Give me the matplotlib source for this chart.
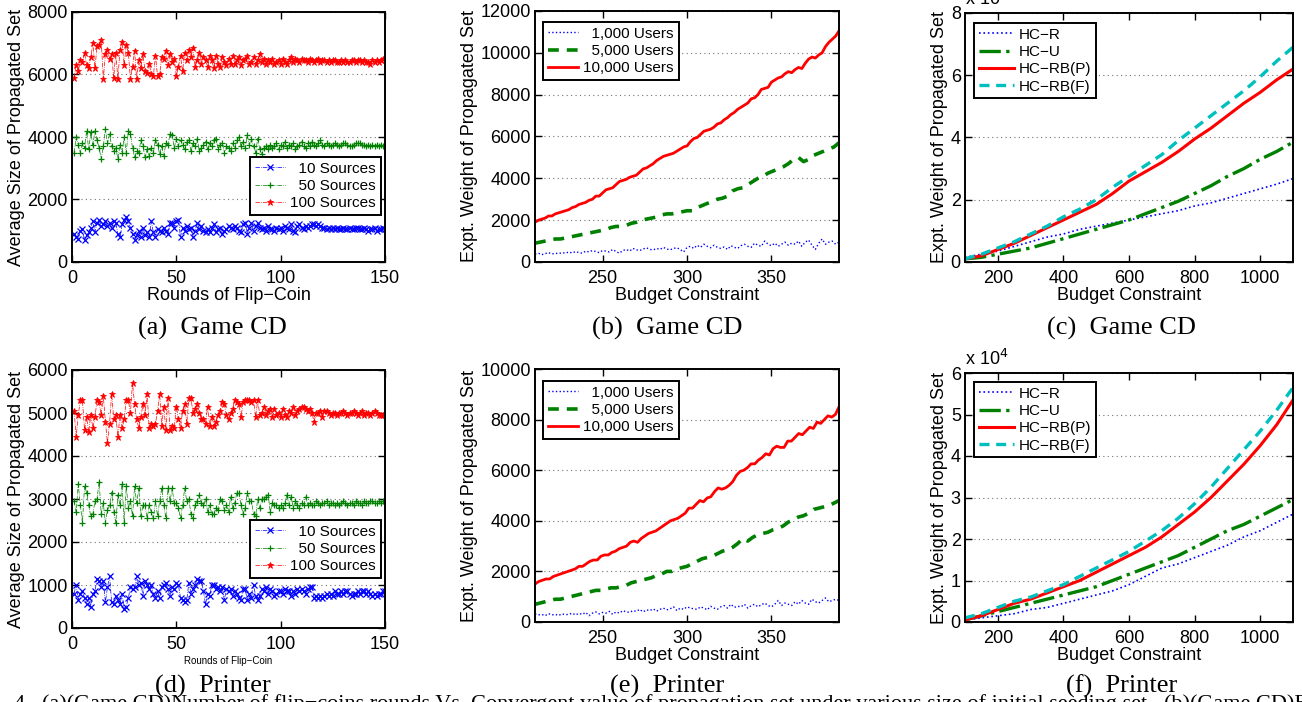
import numpy as np
import matplotlib
matplotlib.use('Agg')
import matplotlib.pyplot as plt

plt.rcParams['font.family'] = ['Liberation Sans', 'DejaVu Sans']

W, H = 1302, 702

# ---- (a) Game CD, flip-coin rounds ----
a_src100 = [5900, 6300, 6100, 6450, 6400, 6700, 6300, 6200, 6550, 7000, 6200, 6900, 6950, 7100, 5850, 6650, 6800, 6500, 6650, 5900,
            6700, 5850, 6800, 7050, 6300, 6950, 6700, 5850, 6250, 6750, 5850, 6450, 6200, 6650, 6100, 6050, 6350, 6000, 5950, 6600,
            5950, 6000, 6550, 6500, 6750, 6300, 6650, 6400, 6500, 5950, 6250, 6600, 6100, 6700, 6450, 6800, 6550, 6850, 6250, 6450,
            6700, 6350, 6550, 6450, 6250, 6600, 6450, 6200, 6600, 6350, 6250, 6550, 6400, 6300, 6500, 6350, 6600, 6350, 6450, 6550,
            6300, 6450, 6500, 6600, 6350, 6400, 6550, 6350, 6450, 6650, 6400, 6500, 6350, 6450, 6400, 6500, 6350, 6400, 6450, 6350,
            6500, 6400, 6350, 6450, 6550, 6400, 6500, 6450, 6400, 6500, 6450, 6450, 6400, 6500, 6450, 6400, 6450, 6500, 6400, 6450,
            6450, 6400, 6450, 6400, 6450, 6450, 6400, 6400, 6450, 6400, 6450, 6400, 6400, 6450, 6450, 6400, 6450, 6450, 6400, 6450,
            6400, 6400, 6350, 6450, 6400, 6450, 6400, 6450, 6500, 6450]
a_src50 = [3500, 4000, 3750, 3500, 3800, 3650, 4200, 3600, 4150, 3750, 4200, 3900, 3650, 3300, 3700, 4250, 3800, 4100, 3700, 3550,
           3650, 3300, 3750, 3500, 4000, 3500, 4200, 4100, 3650, 3350, 3550, 3500, 3900, 3700, 3350, 3600, 3400, 3650, 3500, 3900,
           3750, 3450, 3700, 3400, 3800, 3750, 4100, 4050, 3650, 3950, 3700, 3900, 3750, 3600, 3850, 3900, 3550, 3800, 3700, 3950,
           3550, 3650, 3750, 3850, 3600, 3800, 3700, 3900, 3950, 3600, 3750, 3800, 3500, 3700, 3650, 3550, 3800, 3650, 3900, 4000,
           3700, 3850, 3650, 4050, 3750, 3950, 3700, 3500, 3950, 3600, 3450, 3650, 3700, 3600, 3750, 3650, 3700, 3800, 3600, 3750,
           3700, 3850, 3650, 3750, 3700, 3800, 3600, 3700, 3750, 3850, 3700, 3650, 3800, 3700, 3850, 3750, 3700, 3800, 3900, 3750,
           3700, 3800, 3750, 3700, 3750, 3800, 3750, 3700, 3750, 3800, 3800, 3750, 3700, 3700, 3750, 3800, 3800, 3800, 3750, 3750,
           3700, 3750, 3700, 3750, 3700, 3750, 3700, 3750, 3700, 3750]
a_src10 = [900, 800, 750, 1000, 1050, 700, 850, 950, 1100, 1300, 950, 1250, 1350, 1150, 1200, 1300, 1150, 1250, 1100, 1300,
           1250, 900, 800, 1200, 1350, 1450, 1300, 1100, 900, 700, 850, 1000, 800, 1100, 850, 950, 800, 1300, 950, 800,
           1050, 1000, 950, 1100, 1000, 900, 1250, 1250, 1100, 1300, 1350, 800, 1100, 1000, 1150, 1050, 1100, 800, 1000, 1250,
           1050, 1150, 1000, 950, 1050, 950, 1100, 1200, 950, 1050, 1100, 900, 1000, 1050, 1150, 1100, 1050, 1150, 1100, 1000,
           950, 1200, 1250, 900, 1100, 1250, 1000, 1150, 1250, 1100, 1050, 1100, 1000, 1150, 1050, 1050, 1000, 1100, 1050, 1100,
           1000, 1150, 1100, 1050, 1200, 1000, 950, 1150, 1200, 1100, 1050, 1150, 1100, 1150, 1200, 1200, 1150, 1200, 1150, 1100,
           1100, 1050, 1100, 1050, 1100, 1050, 1100, 1050, 1050, 1100, 1050, 1050, 1100, 1050, 1050, 1100, 1100, 1050, 1050, 1100,
           1050, 1000, 1050, 1050, 1100, 1000, 1050, 1050, 1100, 1050]

# ---- (d) Printer, flip-coin rounds ----
d_src100 = [5050, 4450, 4950, 5300, 5300, 4600, 4900, 4550, 4950, 4650, 4900, 5300, 5250, 4950, 5400, 4800, 4300, 4750, 5450, 4850,
            4950, 4450, 4950, 4650, 4850, 5300, 5300, 5000, 5700, 5200, 4850, 4650, 4900, 5200, 4950, 5450, 4650, 4750, 4700, 4750,
            5050, 5450, 4700, 5150, 4600, 5350, 4600, 4700, 4650, 5150, 4850, 4650, 5050, 5200, 4750, 5350, 5350, 5000, 5100, 5200,
            5000, 4850, 4850, 4750, 5150, 4700, 4900, 4700, 4800, 4950, 5050, 5250, 5200, 4950, 4850, 5000, 5100, 5300, 5250, 5200,
            4900, 5250, 5300, 5300, 5300, 5250, 5300, 4900, 5300, 4950, 5000, 5150, 4950, 5050, 5100, 4900, 5100, 4950, 5000, 4900,
            5100, 4950, 4900, 5050, 5000, 5150, 4950, 5050, 5100, 5150, 5150, 5100, 5050, 5100, 5000, 4800, 5000, 5000, 5050, 4900,
            5050, 5050, 5000, 4950, 5000, 5000, 4950, 5000, 5000, 5050, 5000, 4950, 5000, 5000, 5050, 5000, 4950, 5000, 5050, 4950,
            5000, 5000, 4950, 5000, 5050, 5000, 4950, 4950, 4950, 4950]
d_src50 = [2950, 2700, 3350, 2850, 2450, 3300, 3150, 2850, 2600, 2650, 2950, 3000, 3400, 2650, 2900, 2450, 2750, 2850, 3150, 2700,
           2450, 3100, 2850, 3350, 2450, 3300, 2800, 2950, 2600, 3300, 2900, 3250, 2600, 2850, 2850, 2550, 2850, 2700, 2550, 2950,
           2600, 2950, 3250, 2850, 2550, 3250, 2950, 3250, 2900, 2900, 2800, 2550, 2850, 3250, 2950, 3000, 2650, 2550, 2850, 2950,
           3100, 2900, 2850, 3000, 2700, 2850, 2650, 2650, 2800, 2750, 3000, 2950, 2750, 2850, 2700, 3050, 2800, 2900, 3150, 3150,
           2850, 2650, 2800, 3150, 2950, 2950, 2650, 2600, 3000, 2800, 3000, 3000, 3050, 3100, 2700, 2900, 2850, 2850, 2800, 2850,
           2800, 2900, 3100, 2850, 3050, 2800, 2950, 2850, 2800, 2900, 2850, 3050, 2850, 2900, 2850, 2850, 2950, 2900, 2850, 2900,
           2900, 2950, 2850, 2900, 2900, 2850, 2900, 2850, 2900, 2950, 2900, 2850, 2900, 2900, 2850, 2950, 2900, 2900, 2850, 2950,
           2900, 2900, 2950, 2950, 2900, 2900, 2950, 2900, 2950, 2900]
d_src10 = [800, 1000, 650, 800, 850, 700, 550, 700, 500, 800, 850, 1150, 1100, 950, 1100, 600, 950, 1200, 600, 550,
           750, 650, 550, 800, 450, 500, 700, 950, 900, 950, 1200, 1000, 1050, 750, 1100, 1000, 900, 1000, 800, 700,
           850, 700, 950, 1000, 1050, 900, 750, 950, 900, 1050, 1000, 700, 650, 600, 650, 1050, 800, 900, 1000, 1150,
           1100, 1100, 850, 550, 800, 750, 1000, 1000, 900, 950, 850, 950, 650, 900, 850, 900, 750, 850, 800, 700,
           650, 900, 900, 650, 800, 700, 1000, 750, 650, 750, 900, 850, 950, 800, 900, 850, 750, 800, 850, 850,
           800, 900, 850, 850, 750, 850, 800, 900, 850, 900, 850, 800, 900, 950, 950, 700, 750, 700, 750, 700,
           750, 800, 750, 800, 750, 850, 800, 800, 850, 800, 850, 850, 800, 750, 800, 800, 850, 800, 850, 850,
           800, 850, 800, 750, 800, 750, 800, 800, 850, 850]

# ---- (b) Game CD, budget vs users ----
b_u10000 = [1900, 2000, 2050, 2100, 2200, 2200, 2300, 2350, 2400, 2450, 2500, 2600, 2650, 2750, 2800, 2850, 2950, 3000, 3150, 3150,
            3300, 3450, 3500, 3550, 3700, 3850, 3900, 3950, 4050, 4100, 4150, 4300, 4450, 4500, 4600, 4700, 4850, 4950, 5050, 5100,
            5150, 5200, 5300, 5400, 5500, 5550, 5750, 5900, 5950, 6100, 6250, 6300, 6350, 6450, 6600, 6650, 6800, 6900, 7050, 7150,
            7300, 7400, 7500, 7600, 7800, 7850, 8000, 8250, 8300, 8350, 8600, 8700, 8800, 8850, 9000, 9100, 9050, 9200, 9300, 9250,
            9500, 9700, 9800, 9750, 9900, 10000, 10300, 10500, 10650, 10800, 11050]
b_u5000 = [900, 950, 1000, 1050, 1100, 1100, 1150, 1200, 1250, 1300, 1350, 1400, 1450, 1500, 1550, 1650, 1700, 1700, 1750, 1850,
           1900, 2000, 2050, 2100, 2150, 2250, 2300, 2300, 2350, 2400, 2450, 2450, 2600, 2700, 2800, 2900, 3000, 3050, 3150, 3400,
           3500, 3550, 3700, 3850, 4000, 4100, 4250, 4350, 4450, 4550, 4700, 4900, 5000, 4800, 4900, 5100, 5200, 5300, 5400, 5500,
           5700]
b_u1000 = [380, 420, 350, 400, 450, 380, 420, 400, 450, 420, 480, 430, 500, 450, 420, 520, 480, 550, 500, 450,
           550, 520, 480, 600, 500, 420, 550, 600, 520, 650, 580, 550, 620, 680, 600, 580, 650, 600, 700, 620,
           580, 650, 680, 600, 480, 700, 750, 650, 800, 700, 850, 750, 680, 800, 700, 650, 720, 600, 780, 700,
           650, 780, 850, 750, 700, 900, 800, 750, 1000, 850, 780, 900, 750, 850, 950, 800, 900, 850, 1000, 750,
           950, 1050, 800, 600, 900, 1100, 850, 950, 1000, 850, 950]

# ---- (e) Printer, budget vs users ----
e_u10000 = [1500, 1600, 1650, 1700, 1700, 1800, 1850, 1900, 1950, 2000, 2050, 2100, 2200, 2200, 2300, 2400, 2450, 2450, 2600, 2650,
            2650, 2750, 2800, 2900, 2950, 3000, 3150, 3200, 3150, 3300, 3400, 3500, 3550, 3600, 3700, 3800, 3900, 4000, 4050, 4100,
            4200, 4300, 4500, 4500, 4650, 4800, 4750, 4900, 4950, 5150, 5300, 5250, 5300, 5400, 5550, 5800, 5950, 6000, 6100, 6250,
            6250, 6400, 6500, 6650, 6600, 6850, 6950, 6900, 6900, 7150, 7150, 7300, 7450, 7400, 7550, 7700, 7650, 7900, 7850, 8000,
            8150, 8100, 8200, 8500]
e_u5000 = [700, 750, 800, 850, 900, 900, 950, 1000, 1050, 1100, 1150, 1200, 1250, 1250, 1300, 1350, 1350, 1400, 1450, 1550,
           1600, 1650, 1700, 1750, 1850, 1900, 2000, 2000, 2100, 2150, 2200, 2300, 2400, 2500, 2550, 2600, 2700, 2800, 2850, 2950,
           3100, 3300, 3200, 3350, 3450, 3500, 3550, 3650, 3700, 3800, 3950, 4050, 4150, 4200, 4300, 4450, 4500, 4550, 4600, 4700,
           4800]
e_u1000 = [320, 280, 300, 250, 330, 280, 300, 260, 320, 290, 300, 350, 280, 340, 300, 380, 250, 350, 400, 320,
           380, 350, 420, 300, 400, 350, 450, 400, 380, 450, 420, 500, 400, 480, 450, 520, 430, 500, 550, 480,
           520, 600, 450, 550, 500, 600, 550, 520, 500, 600, 550, 480, 620, 550, 500, 600, 650, 550, 700, 580,
           620, 600, 700, 550, 650, 700, 600, 680, 750, 650, 600, 700, 850, 650, 750, 700, 650, 800, 700, 850,
           750, 700, 900, 800, 750, 850, 950, 800, 850, 900, 850]

# ---- (c)/(f) heuristics, budget 100..1100 step 50, values x 10^4 ----
budget = list(range(100, 1101, 50))
c_hcr = [0.15, 0.25, 0.35, 0.5, 0.65, 0.8, 0.9, 1.05, 1.15, 1.25, 1.35, 1.45, 1.55, 1.65, 1.8, 1.9, 2.05, 2.2, 2.35, 2.5, 2.68]
c_hcu = [0.1, 0.15, 0.25, 0.35, 0.45, 0.6, 0.75, 0.9, 1.05, 1.2, 1.35, 1.55, 1.75, 1.95, 2.2, 2.45, 2.75, 3.0, 3.3, 3.55, 3.85]
c_rbp = [0.1, 0.2, 0.4, 0.6, 0.85, 1.1, 1.35, 1.6, 1.85, 2.2, 2.6, 2.9, 3.2, 3.55, 3.95, 4.3, 4.7, 5.1, 5.45, 5.85, 6.2]
c_rbf = [0.1, 0.25, 0.45, 0.65, 0.9, 1.15, 1.45, 1.7, 2.0, 2.4, 2.75, 3.1, 3.45, 3.9, 4.3, 4.7, 5.1, 5.5, 5.95, 6.45, 6.9]
f_hcr = [0.05, 0.1, 0.15, 0.2, 0.3, 0.35, 0.45, 0.55, 0.65, 0.75, 0.9, 1.1, 1.3, 1.4, 1.55, 1.7, 1.85, 2.05, 2.2, 2.4, 2.6]
f_hcu = [0.05, 0.15, 0.25, 0.35, 0.45, 0.55, 0.65, 0.75, 0.85, 1.0, 1.15, 1.3, 1.45, 1.6, 1.8, 2.0, 2.2, 2.35, 2.55, 2.75, 2.95]
f_rbp = [0.05, 0.15, 0.3, 0.45, 0.55, 0.7, 0.85, 1.0, 1.2, 1.4, 1.6, 1.8, 2.05, 2.35, 2.65, 3.0, 3.4, 3.8, 4.25, 4.75, 5.35]
f_rbf = [0.1, 0.2, 0.35, 0.5, 0.6, 0.75, 0.9, 1.1, 1.3, 1.5, 1.7, 1.95, 2.2, 2.5, 2.85, 3.25, 3.7, 4.15, 4.6, 5.1, 5.65]

FS = 13
LFS = 11
FIG = '\u2007'  # digit-width space, keeps legend labels right aligned

fig = plt.figure(figsize=(W / 100, H / 100), dpi=100)


def px_axes(l, t, r, b):
    return fig.add_axes([l / W, 1 - b / H, (r - l) / W, (b - t) / H])


def style(ax):
    for s in ax.spines.values():
        s.set_linewidth(1.4)
    ax.tick_params(direction='in', top=True, right=True, length=5, width=1, labelsize=FS)
    ax.tick_params(axis='x', pad=6)
    ax.tick_params(axis='y', pad=3)
    ax.yaxis.grid(True, linestyle=(0, (1, 3)), color='0.45', linewidth=0.8)
    ax.set_axisbelow(True)


def legend(ax, x, y, hl=2.0):
    lg = ax.legend(loc='upper left', bbox_to_anchor=(x / W, 1 - y / H), bbox_transform=fig.transFigure,
                   borderaxespad=0, fancybox=False, framealpha=1, edgecolor='black', fontsize=LFS,
                   handlelength=hl, labelspacing=0.22, borderpad=0.3, handletextpad=0.35)
    lg.get_frame().set_linewidth(1.4)


def rounds_panel(ax, s10, s50, s100, ymax, ystep, leg_y, small_xlabel=False):
    ax.plot(np.arange(1, len(s10) + 1), s10, color='blue', ls='-.', lw=0.5, marker='x', ms=4, mew=0.9,
            label=FIG + '10 Sources')
    ax.plot(np.arange(1, len(s50) + 1), s50, color='green', ls='-.', lw=0.5, marker='+', ms=5, mew=0.9,
            label=FIG + '50 Sources')
    ax.plot(np.arange(1, len(s100) + 1), s100, color='red', ls='-.', lw=0.5, marker='*', ms=4.5, mew=0.6,
            label='100 Sources')
    ax.set_xlim(0, 150)
    ax.set_ylim(0, ymax)
    ax.set_xticks([0, 50, 100, 150])
    ax.set_yticks(np.arange(0, ymax + 1, ystep))
    style(ax)
    ax.set_ylabel('Average Size of Propagated Set', fontsize=FS, labelpad=2)
    if small_xlabel:
        ax.set_xlabel('Rounds of Flip\u2212Coin', fontsize=7, labelpad=2)
    else:
        ax.set_xlabel('Rounds of Flip\u2212Coin', fontsize=FS, labelpad=0)
    legend(ax, 250, leg_y)


def users_panel(ax, u1000, u5000, u10000, ymax, leg_y):
    ax.plot(np.linspace(210, 390, len(u1000)), u1000, color='blue', ls=':', lw=1.0, label=FIG + '1,000 Users')
    ax.plot(np.linspace(210, 390, len(u5000)), u5000, color='green', ls=(0, (3, 2.2)), lw=2.6, label=FIG + '5,000 Users')
    ax.plot(np.linspace(210, 390, len(u10000)), u10000, color='red', ls='-', lw=2.0, label='10,000 Users')
    ax.set_xlim(210, 390)
    ax.set_ylim(0, ymax)
    ax.set_xticks([250, 300, 350])
    ax.set_yticks(np.arange(0, ymax + 1, 2000))
    style(ax)
    ax.set_ylabel('Expt. Weight of Propagated Set', fontsize=FS, labelpad=2)
    ax.set_xlabel('Budget Constraint', fontsize=FS, labelpad=0)
    legend(ax, 543, leg_y)


def heur_panel(ax, hcr, hcu, rbp, rbf, ymax, ystep, leg_y):
    ax.plot(budget, hcr, color='blue', ls=':', lw=1.2, label='HC\u2212R')
    ax.plot(budget, hcu, color='green', ls='-.', lw=2.4, label='HC\u2212U')
    ax.plot(budget, rbp, color='red', ls='-', lw=2.2, label='HC\u2212RB(P)')
    ax.plot(budget, rbf, color='#00bfbf', ls=(0, (3, 2)), lw=2.4, label='HC\u2212RB(F)')
    ax.set_xlim(100, 1100)
    ax.set_ylim(0, ymax)
    ax.set_xticks([200, 400, 600, 800, 1000])
    ax.set_yticks(np.arange(0, ymax + 1, ystep))
    style(ax)
    ax.set_ylabel('Expt. Weight of Propagated Set', fontsize=FS, labelpad=2)
    ax.set_xlabel('Budget Constraint', fontsize=FS, labelpad=0)
    ax.text(0.0, 1.015, 'x 10$^{4}$', transform=ax.transAxes, fontsize=FS, ha='left', va='bottom')
    legend(ax, 974, leg_y, hl=2.3)


ax_a = px_axes(72, 12, 385, 262)
rounds_panel(ax_a, a_src10, a_src50, a_src100, 8000, 2000, 157)
ax_b = px_axes(535, 11, 839, 262)
users_panel(ax_b, b_u1000, b_u5000, b_u10000, 12000, 22)
ax_c = px_axes(965, 13, 1293, 262)
heur_panel(ax_c, c_hcr, c_hcu, c_rbp, c_rbf, 8, 2, 23)

ax_d = px_axes(72, 370, 385, 628)
rounds_panel(ax_d, d_src10, d_src50, d_src100, 6000, 1000, 520, small_xlabel=True)
ax_e = px_axes(535, 369, 839, 622)
users_panel(ax_e, e_u1000, e_u5000, e_u10000, 10000, 381)
ax_f = px_axes(965, 373, 1293, 622)
heur_panel(ax_f, f_hcr, f_hcu, f_rbp, f_rbf, 6, 1, 382)

captions = [('(a)  Game CD', 212, 328), ('(b)  Game CD', 667, 328), ('(c)  Game CD', 1121, 328),
            ('(d)  Printer', 213, 686), ('(e)  Printer', 667, 686), ('(f)  Printer', 1122, 686)]
for txt, cx, cy in captions:
    fig.text(cx / W, 1 - cy / H, txt, family='Liberation Serif', fontsize=19, ha='center', va='center')

# figure caption line, cut off by the bottom edge
fig.text(14 / W, 1 - 694 / H,
         '4.  (a)(Game CD)Number of flip\u2212coins rounds Vs. Convergent value of propagation set under various size '
         'of initial seeding set.  (b)(Game CD)Budget Constraint',
         family='Liberation Serif', fontsize=16, ha='left', va='top')

fig.savefig('out.png', dpi=100)
